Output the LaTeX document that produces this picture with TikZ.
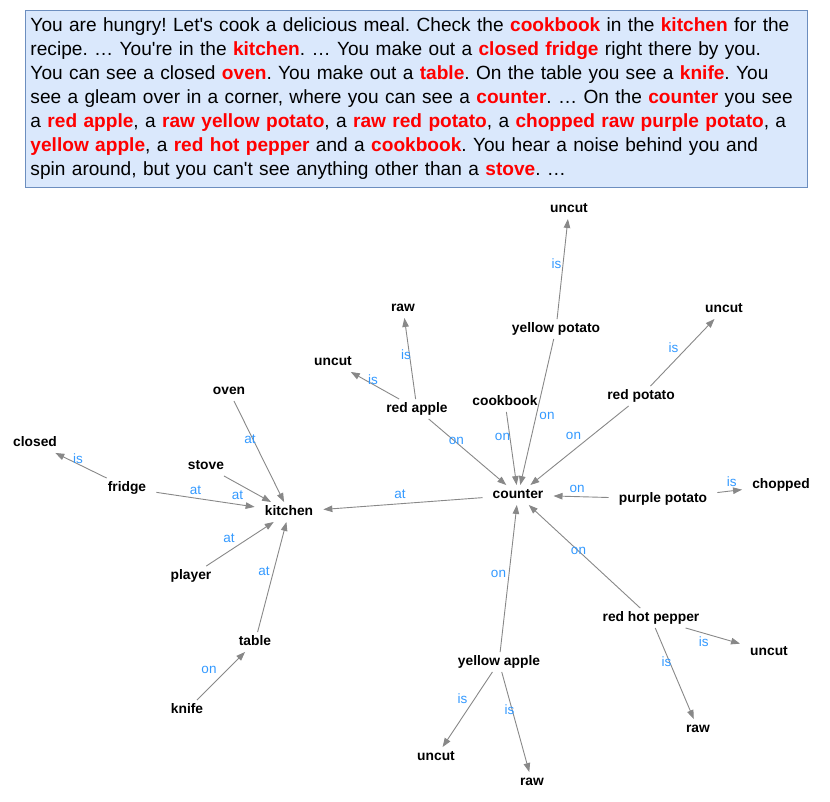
\documentclass[tikz,border=0pt]{standalone}
\usepackage{fontspec}
\setmainfont{Liberation Sans}
\usepackage{xcolor}
\usepackage{tikz}
\usetikzlibrary{arrows.meta}
\definecolor{storyfill}{HTML}{DAE8FC}
\definecolor{storyline}{HTML}{6C8EBF}
\definecolor{relblue}{HTML}{3399FF}
\definecolor{arrgray}{HTML}{888888}
\definecolor{kwred}{HTML}{FF0000}
\newcommand{\kw}[1]{\textcolor{kwred}{\textbf{#1}}}
\newcommand{\ap}{\textquotesingle}

\begin{document}
\frenchspacing
\begin{tikzpicture}[
  x=1pt, y=-1pt,
  ent/.style={font=\fontsize{13.8}{16}\selectfont\bfseries, inner xsep=10pt, inner ysep=5pt, text height=1.5ex, text depth=.3ex},
  rel/.style={font=\fontsize{13.5}{16}\selectfont, text=relblue, inner sep=0pt},
  arr/.style={draw=arrgray, line width=0.9pt, -{Triangle[length=9pt, width=6.5pt]}},
  story/.style={draw=storyline, line width=1pt, fill=storyfill, align=left, text width=772pt, inner xsep=5pt, inner ysep=7.5pt, font=\fontsize{19.1}{24}\selectfont}
]
  \useasboundingbox (0,0) rectangle (830,802);

  % Story text
  \node[story, anchor=north west] (story) at (25,10) {You are hungry! Let\ap s cook a delicious meal. Check the \kw{cookbook} in the \kw{kitchen} for the\\
recipe. … You\ap re in the \kw{kitchen}. … You make out a \kw{closed fridge} right there by you.\\
You can see a closed \kw{oven}. You make out a \kw{table}. On the table you see a \kw{knife}. You\\
\mbox{see a gleam over in a corner, where you can see a \kw{counter}. … On the \kw{counter} you see}\\
a \kw{red apple}, a \kw{raw yellow potato}, a \kw{raw red potato}, a \kw{chopped raw purple potato}, a\\
\kw{yellow apple}, a \kw{red hot pepper} and a \kw{cookbook}. You hear a noise behind you and\\
spin around, but you can\ap t see anything other than a \kw{stove}. …};

  % Nodes
  \foreach \n/\x/\y/\t in {closed/35/443/closed, fridge/127/488/fridge, oven/229/391/oven,
    stove/206/466/stove, kitchen/289/512/kitchen, player/191/576/player, table/255/642/table,
    knife/187/710/knife, counter/518/495/counter, rapple/417/409/red apple, rawRA/403/308/raw,
    uncutRA/333/362/uncut, cookbook/505/402/cookbook, ypotato/556/329/yellow potato,
    uncutYP/569/209/uncut, rpotato/641/396/red potato, uncutRP/724/309/uncut,
    ppotato/663/499/purple potato, chopped/781/485/chopped, yapple/499/662/yellow apple,
    uncutYA/436/757/uncut, rawYA/532/782/raw, pepper/651/618/red hot pepper,
    uncutPe/769/652/uncut, rawPe/698/729/raw} {
    \node[ent] (\n) at (\x,\y) {\t};
  }

  % Edges
  \foreach \s/\t/\r/\dx/\dy in {fridge/closed/is/-3/7, fridge/kitchen/at/-10/9,
    stove/kitchen/at/-10/-6, oven/kitchen/at/-9/12, player/kitchen/at/-11/6,
    table/kitchen/at/-8/6, knife/table/on/-12/6, counter/kitchen/at/-3/9,
    rapple/counter/on/-11/11, rapple/rawRA/is/-4/4, rapple/uncutRA/is/-2/6,
    cookbook/counter/on/-9/12, ypotato/counter/on/10/-4, ypotato/uncutYP/is/-6/5,
    rpotato/counter/on/-6/10, rpotato/uncutRP/is/-9/5, ppotato/counter/on/-4/8,
    ppotato/chopped/is/2/9, yapple/counter/on/-10/5, pepper/counter/on/-6/6,
    pepper/uncutPe/is/-9/-6, pepper/rawPe/is/-8/12, yapple/uncutYA/is/-5/11,
    yapple/rawYA/is/-6/12} {
    \draw[arr] (\s) -- node[rel, xshift=\dx pt, yshift=\dy pt] {\r} (\t);
  }
\end{tikzpicture}
\end{document}
